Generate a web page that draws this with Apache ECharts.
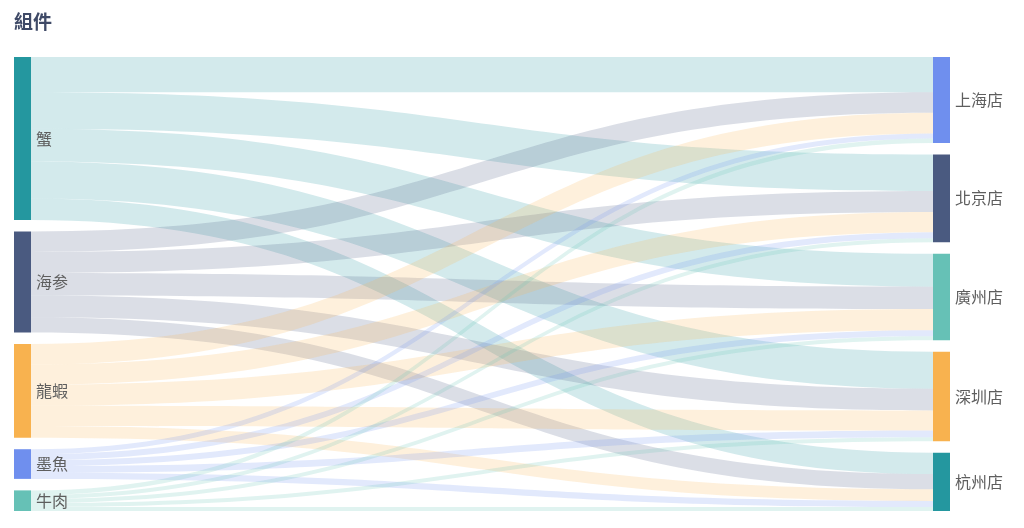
<!DOCTYPE html>
<html>
<head>
<meta charset="utf-8">
<script src="https://cdn.jsdelivr.net/npm/echarts@6/dist/echarts.min.js"></script>
<style>
html,body{margin:0;padding:0;background:#fff;}
#chart{width:1024px;height:528px;}
</style>
</head>
<body>
<div id="chart"></div>
<script>
const titleText = '組件';
const sources = ['蟹', '海参', '龍蝦', '墨魚', '牛肉'];
const targets = ['上海店', '北京店', '廣州店', '深圳店', '杭州店'];
// values: rows = sources, columns = targets
const crabValues = [350, 363, 327, 367, 213];
const seaCucumberValues = [204, 210, 223, 217, 150];
const lobsterValues = [206, 200, 210, 200, 117];
const squidValues = [50, 60, 60, 65, 60];
const beefValues = [45, 40, 40, 40, 40];
const valueRows = [crabValues, seaCucumberValues, lobsterValues, squidValues, beefValues];

const sourceColors = ['#24979f', '#4a5a80', '#f8b24f', '#6f8fee', '#66c1b6'];
const targetColors = ['#6f8fee', '#4a5a80', '#66c1b6', '#f8b24f', '#24979f'];

const nodes = [];
sources.forEach((n, i) => nodes.push({ name: n, itemStyle: { color: sourceColors[i] } }));
targets.forEach((n, i) => nodes.push({ name: n, itemStyle: { color: targetColors[i] } }));
const links = [];
sources.forEach((s, i) => {
  targets.forEach((t, j) => {
    links.push({ source: s, target: t, value: valueRows[i][j] });
  });
});

const chart = echarts.init(document.getElementById('chart'));
chart.setOption({
  animation: false,
  title: {
    text: titleText,
    left: 9,
    top: 7,
    textStyle: { fontSize: 19, fontWeight: 'bold', color: '#3f4a67', fontFamily: 'Noto Sans CJK TC' }
  },
  series: [{
    type: 'sankey',
    left: 14,
    right: 74,
    top: 57,
    bottom: 17,
    nodeWidth: 17,
    nodeGap: 11.5,
    layoutIterations: 0,
    data: nodes,
    links: links,
    label: {
      position: 'right',
      fontSize: 16,
      color: '#5e5e5e',
      fontFamily: 'Noto Sans CJK TC'
    },
    itemStyle: { borderWidth: 0 },
    lineStyle: { color: 'source', opacity: 0.2, curveness: 0.5 }
  }]
});
</script>
</body>
</html>
